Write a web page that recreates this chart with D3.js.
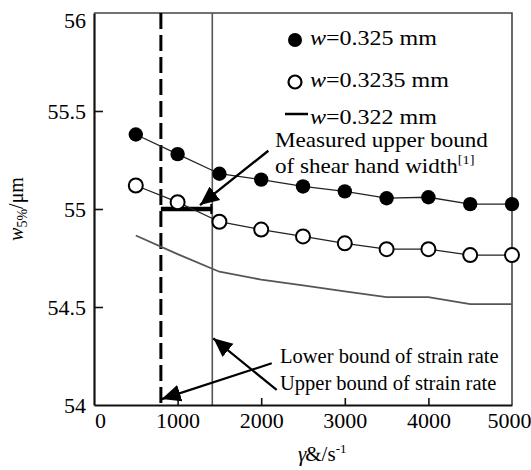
<!DOCTYPE html>
<html><head><meta charset="utf-8">
<script src="https://cdn.jsdelivr.net/npm/d3@7"></script>
<style>
body{margin:0;background:#fff}
svg{display:block}
text{font-family:"Liberation Serif","Times New Roman",serif;fill:#000}
</style>
</head><body>
<script>
// ---- data ----
const strainRates = [500, 1000, 1500, 2000, 2500, 3000, 3500, 4000, 4500, 5000];
const w0325  = [55.38, 55.28, 55.18, 55.15, 55.115, 55.09, 55.055, 55.06, 55.025, 55.025];
const w03235 = [55.12, 55.035, 54.935, 54.895, 54.86, 54.825, 54.795, 54.795, 54.765, 54.765];
const w0322  = [54.865, 54.77, 54.68, 54.64, 54.61, 54.58, 54.55, 54.55, 54.515, 54.515];
const xTicks = [0, 1000, 2000, 3000, 4000, 5000];
const yTicks = [54, 54.5, 55, 55.5, 56];
const seriesNames = ["0.325", "0.3235", "0.322"];
const lowerBoundRate = 800;
const upperBoundRate = 1415;
const measuredUpperWidth = 55;

const W = 531, H = 470;
const m = {left: 94, top: 13, right: 19, bottom: 65};
const svg = d3.select("body").append("svg").attr("width", W).attr("height", H);

const x = d3.scaleLinear().domain([0, 5000]).range([m.left, W - m.right]);
const y = d3.scaleLinear().domain([54, 56]).range([H - m.bottom, m.top]);

// frame (top/right)
svg.append("path")
  .attr("d", `M${x(0)},${y(56)}H${x(5000)}V${y(54)}`)
  .attr("fill", "none").attr("stroke", "#444").attr("stroke-width", 1.6);

// vertical bound lines
svg.append("line")
  .attr("x1", x(upperBoundRate)).attr("x2", x(upperBoundRate))
  .attr("y1", y(56)).attr("y2", y(54))
  .attr("stroke", "#555").attr("stroke-width", 1.6);
svg.append("line")
  .attr("x1", x(lowerBoundRate)).attr("x2", x(lowerBoundRate))
  .attr("y1", y(56)).attr("y2", y(54))
  .attr("stroke", "#000").attr("stroke-width", 3).attr("stroke-dasharray", "16,6");

// measured upper bound bar
svg.append("line")
  .attr("x1", x(lowerBoundRate)).attr("x2", x(upperBoundRate))
  .attr("y1", y(measuredUpperWidth)).attr("y2", y(measuredUpperWidth))
  .attr("stroke", "#000").attr("stroke-width", 4.5);
svg.append("line")
  .attr("x1", x(upperBoundRate) - 1).attr("x2", x(upperBoundRate) - 1)
  .attr("y1", y(measuredUpperWidth) - 5).attr("y2", y(measuredUpperWidth) + 5)
  .attr("stroke", "#000").attr("stroke-width", 2);

// axes
const xAxis = svg.append("g").attr("transform", `translate(0,${y(54)})`)
  .call(d3.axisBottom(x).tickValues(xTicks).tickSize(-7).tickSizeOuter(0).tickPadding(7).tickFormat(d3.format("d")));
const yAxis = svg.append("g").attr("transform", `translate(${x(0)},0)`)
  .call(d3.axisLeft(y).tickValues(yTicks).tickSize(-9).tickSizeOuter(0).tickPadding(8).tickFormat(d => String(d)));
[xAxis, yAxis].forEach(g => {
  g.attr("font-family", null);
  g.select(".domain").attr("stroke", "#111").attr("stroke-width", 2.2);
  g.selectAll(".tick line").attr("stroke", "#111").attr("stroke-width", 1.6);
  g.selectAll(".tick text").attr("font-size", 22).attr("fill", "#000");
});
xAxis.selectAll(".tick").filter(d => d === 0 || d === 5000).select("line").remove();
xAxis.selectAll(".tick").filter(d => d === 0).select("text").attr("dx", 6);
xAxis.selectAll(".tick").filter(d => d === 5000).select("text").attr("dx", -3);
yAxis.selectAll(".tick").filter(d => d === 54 || d === 56).select("line").remove();
yAxis.selectAll(".tick").filter(d => d === 56).select("text").attr("dy", "0.66em");

// series
const line = d3.line().x((d, i) => x(strainRates[i])).y(d => y(d));
svg.append("path").datum(w0322).attr("d", line)
  .attr("fill", "none").attr("stroke", "#555").attr("stroke-width", 1.8);
svg.append("path").datum(w03235).attr("d", line)
  .attr("fill", "none").attr("stroke", "#222").attr("stroke-width", 1.3);
svg.append("path").datum(w0325).attr("d", line)
  .attr("fill", "none").attr("stroke", "#222").attr("stroke-width", 1.3);

svg.append("g").selectAll("circle").data(w03235).join("circle")
  .attr("cx", (d, i) => x(strainRates[i])).attr("cy", d => y(d)).attr("r", 7)
  .attr("fill", "#fff").attr("stroke", "#000").attr("stroke-width", 2);
svg.append("g").selectAll("circle").data(w0325).join("circle")
  .attr("cx", (d, i) => x(strainRates[i])).attr("cy", d => y(d)).attr("r", 7.2)
  .attr("fill", "#000");

// legend
const leg = svg.append("g");
const legRows = [{cy: 40, by: 45}, {cy: 82, by: 87}, {cy: 114, by: 124}];
leg.append("circle").attr("cx", 295).attr("cy", legRows[0].cy).attr("r", 7).attr("fill", "#000");
leg.append("circle").attr("cx", 295).attr("cy", legRows[1].cy).attr("r", 6.5)
  .attr("fill", "#fff").attr("stroke", "#000").attr("stroke-width", 2.2);
leg.append("line").attr("x1", 285).attr("x2", 308).attr("y1", legRows[2].cy).attr("y2", legRows[2].cy)
  .attr("stroke", "#000").attr("stroke-width", 2.5);
seriesNames.forEach((s, i) => {
  const t = leg.append("text").attr("font-size", 20)
    .attr("transform", `translate(310,${legRows[i].by}) scale(1.2,1)`);
  t.append("tspan").attr("font-style", "italic").text("w");
  t.append("tspan").text("=" + s + " mm");
});

// arrow helper
svg.append("defs").append("marker").attr("id", "ah")
  .attr("viewBox", "0 0 10 10").attr("refX", 10).attr("refY", 5)
  .attr("markerWidth", 19).attr("markerHeight", 19).attr("markerUnits", "userSpaceOnUse")
  .attr("orient", "auto")
  .append("path").attr("d", "M0,0.5L10,5L0,9.5Z").attr("fill", "#000");
function arrow(x1, y1, x2, y2, sw) {
  svg.append("line").attr("x1", x(x1)).attr("y1", y(y1)).attr("x2", x(x2)).attr("y2", y(y2))
    .attr("stroke", "#000").attr("stroke-width", sw).attr("marker-end", "url(#ah)");
}
arrow(2085, 55.297, 1268, 55.02, 2.4);
arrow(2126, 54.213, 810, 54.03, 2.2);
arrow(2185, 54.077, 1427, 54.34, 2.2);

// annotation texts
const a1 = svg.append("text").attr("font-size", 21)
  .attr("transform", `translate(${x(2165)},${y(55.314)}) scale(1.1,1)`);
a1.text("Measured upper bound");
const a2 = svg.append("text").attr("font-size", 21)
  .attr("transform", `translate(${x(2165)},${y(55.183)}) scale(1.1,1)`);
a2.append("tspan").text("of shear hand width");
a2.append("tspan").attr("font-size", 13).attr("dy", -9).text("[1]");

svg.append("text").attr("font-size", 20.5).attr("x", x(2225)).attr("y", y(54.214))
  .text("Lower bound of strain rate");
svg.append("text").attr("font-size", 20.5).attr("x", x(2225)).attr("y", y(54.077))
  .text("Upper bound of strain rate");

// axis titles
const xl = svg.append("text").attr("font-size", 21).attr("x", 298).attr("y", 461);
xl.append("tspan").attr("font-style", "italic").text("γ");
xl.append("tspan").attr("dx", -1).text("&/s");
xl.append("tspan").attr("font-size", 13).attr("dy", -8).text("-1");

const yl = svg.append("text").attr("font-size", 20)
  .attr("transform", `translate(23,${(y(54) + y(56)) / 2}) rotate(-90)`)
  .attr("text-anchor", "middle");
yl.append("tspan").attr("font-style", "italic").text("w");
yl.append("tspan").attr("font-size", 14).attr("dy", 4).text("5%");
yl.append("tspan").attr("dy", -4).text("/μm");
</script>
</body></html>
